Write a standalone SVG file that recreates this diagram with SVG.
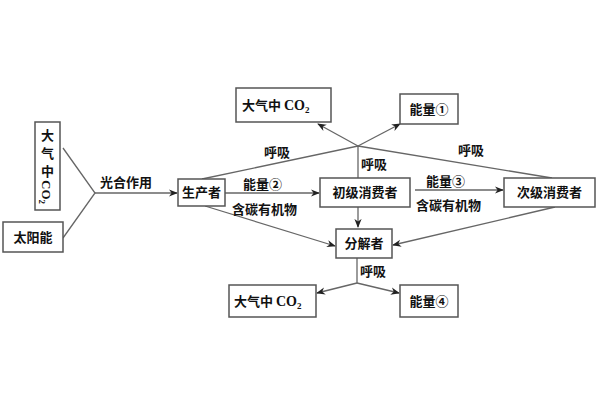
<svg xmlns="http://www.w3.org/2000/svg" width="600" height="400" viewBox="0 0 600 400">
<style>
rect{fill:#fff;stroke:#555;stroke-width:1.5}
text{font-family:"Noto Sans CJK SC","Liberation Serif",serif;font-size:13px;font-weight:bold;fill:#111}
.c line,.c polyline{stroke:#666;stroke-width:1.3;fill:none}
.a{marker-end:url(#ar)}
</style>
<defs><marker id="ar" viewBox="0 0 10 10" refX="9" refY="5" markerWidth="9" markerHeight="9" orient="auto" markerUnits="userSpaceOnUse"><path d="M0,1 L10,5 L0,9 L3,5 Z" fill="#222"/></marker></defs>
<rect width="600" height="400" style="fill:#fff;stroke:none"/>
<g class="c">
<polyline points="63,148 95,193 63,238"/>
<line class="a" x1="95" y1="193" x2="177" y2="193"/>
<polyline points="202,179 358,146 552,178"/>
<line class="a" x1="358" y1="146" x2="318" y2="124"/>
<line class="a" x1="358" y1="146" x2="400" y2="124"/>
<line x1="358" y1="146" x2="358" y2="178"/>
<line class="a" x1="225" y1="193" x2="319" y2="193"/>
<line class="a" x1="415" y1="190" x2="503" y2="190"/>
<line class="a" x1="358" y1="207" x2="358" y2="227"/>
<line class="a" x1="205" y1="206" x2="335" y2="246"/>
<line class="a" x1="555" y1="207" x2="393" y2="245"/>
<polyline points="357,258 357,283"/>
<line class="a" x1="357" y1="283" x2="317" y2="293"/>
<line class="a" x1="357" y1="283" x2="399" y2="293"/>
</g>
<g id="co2left"><rect x="35" y="122" width="25" height="88"/><text x="47.5" y="140" text-anchor="middle">大</text><text x="47.5" y="158" text-anchor="middle">气</text><text x="47.5" y="176" text-anchor="middle">中</text><text transform="translate(42,180) rotate(90)" style="font-family:'Liberation Serif',serif;font-size:13px">CO<tspan font-size="9" dy="3">2</tspan></text></g>
<g id="sun"><rect x="3" y="222" width="60" height="30"/><text x="33" y="242" text-anchor="middle">太阳能</text></g>
<text x="100" y="187">光合作用</text>
<g id="producer"><rect x="178" y="179" width="47" height="27"/><text x="201.5" y="197" text-anchor="middle">生产者</text></g>
<g id="co2top"><rect x="236" y="88" width="95" height="34"/><text x="242" y="110">大气中 <tspan style="font-family:'Liberation Serif',serif;font-size:14px">CO<tspan font-size="9" dy="3">2</tspan></tspan></text></g>
<g id="e1"><rect x="400" y="94" width="58" height="30"/><text x="429" y="114" text-anchor="middle">能量①</text></g>
<text x="264" y="157">呼吸</text>
<text x="361" y="169">呼吸</text>
<text x="458" y="155">呼吸</text>
<text x="243" y="189">能量②</text>
<text x="232" y="214">含碳有机物</text>
<g id="primary"><rect x="320" y="178" width="90" height="29"/><text x="365" y="197" text-anchor="middle">初级消费者</text></g>
<text x="426" y="186">能量③</text>
<text x="416" y="210">含碳有机物</text>
<g id="secondary"><rect x="504" y="178" width="91" height="29"/><text x="549.5" y="197" text-anchor="middle">次级消费者</text></g>
<g id="decomposer"><rect x="336" y="229" width="56" height="29"/><text x="364" y="248" text-anchor="middle">分解者</text></g>
<text x="360" y="276">呼吸</text>
<g id="co2bottom"><rect x="229" y="285" width="87" height="32"/><text x="234" y="306">大气中 <tspan style="font-family:'Liberation Serif',serif;font-size:14px">CO<tspan font-size="9" dy="3">2</tspan></tspan></text></g>
<g id="e4"><rect x="400" y="285" width="58" height="32"/><text x="429" y="306" text-anchor="middle">能量④</text></g>
</svg>
